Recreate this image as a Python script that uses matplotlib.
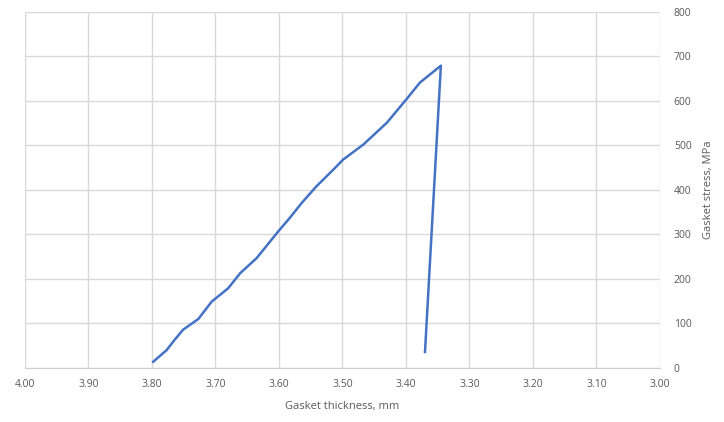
import matplotlib.pyplot as plt

# gasket thickness (mm) and stress (MPa), loading then unloading
thickness = [3.798, 3.790, 3.777, 3.765, 3.751, 3.727, 3.706, 3.680, 3.661, 3.635,
             3.601, 3.583, 3.564, 3.541, 3.514, 3.499, 3.467, 3.430, 3.399,
             3.378, 3.345, 3.370]
stress = [14, 24, 40, 62, 86, 110, 149, 179, 213, 247,
          307, 337, 371, 408, 446, 468, 502, 551, 604,
          641, 679, 36]

x_ticks = [4.0, 3.9, 3.8, 3.7, 3.6, 3.5, 3.4, 3.3, 3.2, 3.1, 3.0]
y_ticks = [0, 100, 200, 300, 400, 500, 600, 700, 800]

plt.rcParams['font.family'] = ['Open Sans', 'DejaVu Sans']

fig = plt.figure(figsize=(7.24, 4.22), dpi=100)
ax = fig.add_axes([0.0345, 0.128, 0.877, 0.844])
ax.plot(thickness, stress, color='#4472c4', linewidth=1.8)

ax.set_xlim(4.0, 3.0)
ax.set_ylim(0, 800)
ax.set_xticks(x_ticks)
ax.set_xticklabels(['%.2f' % t for t in x_ticks])
ax.set_yticks(y_ticks)
ax.yaxis.tick_right()
ax.yaxis.set_label_position('right')
ax.grid(True, color='#d9d9d9', linewidth=1)
ax.set_axisbelow(True)
for s in ['top', 'left', 'right']:
    ax.spines[s].set_visible(False)
ax.spines['bottom'].set_color('#d0d0d0')
ax.tick_params(axis='both', length=0, labelsize=7.5, labelcolor='#595959', pad=8)
ax.tick_params(axis='y', pad=10)

ax.set_xlabel('Gasket thickness, mm', fontsize=8, color='#595959', labelpad=8)
ax.set_ylabel('Gasket stress, MPa', fontsize=8, color='#595959', labelpad=8)

fig.savefig('out.png', dpi=100)
